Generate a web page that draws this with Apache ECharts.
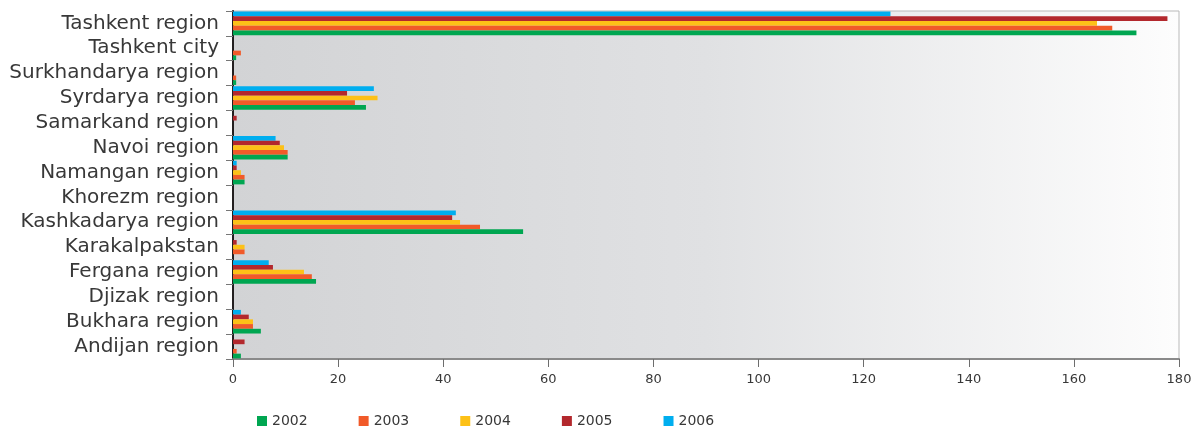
<!DOCTYPE html>
<html>
<head>
<meta charset="utf-8">
<script src="https://cdn.jsdelivr.net/npm/echarts@6/dist/echarts.min.js"></script>
<style>
  html, body { margin: 0; padding: 0; background: #ffffff; }
  #chart { width: 1196px; height: 428px; }
</style>
</head>
<body>
<div id="chart"></div>
<script>
// Regions, listed bottom to top along the category axis
const regions = [
  'Andijan region', 'Bukhara region', 'Djizak region', 'Fergana region',
  'Karakalpakstan', 'Kashkadarya region', 'Khorezm region', 'Namangan region',
  'Navoi region', 'Samarkand region', 'Syrdarya region', 'Surkhandarya region',
  'Tashkent city', 'Tashkent region'
];

const years = ['2002', '2003', '2004', '2005', '2006'];

// Values per year, in the same order as the regions
const v2002 = [1.5, 5.3, 0, 15.8, 0, 55.2, 0, 2.2, 10.4, 0, 25.3, 0.6, 0.6, 171.9];
const v2003 = [0.7, 3.8, 0, 15.0, 2.2, 47.0, 0, 2.2, 10.4, 0, 23.2, 0.6, 1.5, 167.3];
const v2004 = [0, 3.8, 0, 13.5, 2.2, 43.2, 0, 1.5, 9.7, 0, 27.5, 0, 0, 164.4];
const v2005 = [2.2, 3.0, 0, 7.6, 0.7, 41.7, 0, 0.7, 8.9, 0.7, 21.7, 0, 0, 177.8];
const v2006 = [0, 1.5, 0, 6.8, 0, 42.4, 0, 0.7, 8.1, 0, 26.8, 0, 0, 125.1];

const seriesValues = [v2002, v2003, v2004, v2005, v2006];
const colors = ['#00a651', '#f15a29', '#fdc117', '#b3282d', '#00aeef'];

// Bars within a category stack top-down in series order, so the latest year goes first
const order = [4, 3, 2, 1, 0];

const chart = echarts.init(document.getElementById('chart'), null, { renderer: 'canvas' });

chart.setOption({
  animation: false,
  textStyle: { fontFamily: 'DejaVu Sans' },
  grid: {
    left: 233, right: 17, top: 11, bottom: 69,
    show: true,
    borderColor: '#b9b9b9',
    borderWidth: 1,
    backgroundColor: {
      type: 'linear', x: 0, y: 0, x2: 1, y2: 0,
      colorStops: [
        { offset: 0, color: '#d2d3d5' },
        { offset: 0.5, color: '#e0e1e3' },
        { offset: 1, color: '#fdfdfd' }
      ]
    }
  },
  xAxis: {
    type: 'value',
    min: 0, max: 180, interval: 20,
    axisLine: { show: true, lineStyle: { color: '#8a8a8a', width: 2 } },
    axisTick: { show: true, length: 8, lineStyle: { color: '#6d6d6d', width: 1 } },
    axisLabel: { color: '#383838', fontSize: 13, margin: 14 },
    splitLine: { show: false }
  },
  yAxis: {
    type: 'category',
    data: regions,
    axisLine: { show: true, lineStyle: { color: '#231f20', width: 2 } },
    axisTick: { show: true, length: 7, interval: 0, lineStyle: { color: '#777777', width: 1 } },
    axisLabel: { color: '#383838', fontSize: 20, margin: 14, interval: 0 },
    splitLine: { show: false }
  },
  legend: {
    data: years,
    left: 257, top: 414,
    padding: 0,
    icon: 'rect',
    itemWidth: 10, itemHeight: 10,
    itemGap: 51,
    textStyle: { color: '#383838', fontSize: 14, padding: [0, 0, 0, 0] }
  },
  series: order.map(i => ({
    name: years[i],
    type: 'bar',
    data: seriesValues[i],
    barGap: '0%',
    barCategoryGap: '5%',
    itemStyle: { color: colors[i] }
  }))
});
</script>
</body>
</html>
